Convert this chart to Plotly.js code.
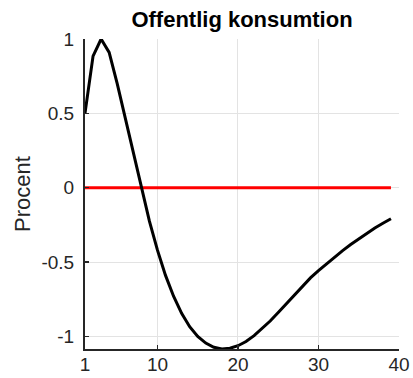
<!DOCTYPE html>
<html>
<head>
<meta charset="utf-8">
<script src="https://cdn.plot.ly/plotly-3.0.1.min.js"></script>
<style>html,body{margin:0;padding:0;background:#fff;}#chart{width:413px;height:378px;}</style>
</head>
<body>
<div id="chart"></div>
<script>
const titleText = "Offentlig konsumtion";
const yLabel = "Procent";
const periods = [1,2,3,4,5,6,7,8,9,10,11,12,13,14,15,16,17,18,19,20,21,22,23,24,25,26,27,28,29,30,31,32,33,34,35,36,37,38,39];
const response = [0.5,0.885,1.0,0.91,0.70,0.47,0.235,-0.005,-0.225,-0.42,-0.59,-0.73,-0.845,-0.935,-1.0,-1.045,-1.073,-1.085,-1.08,-1.063,-1.035,-0.995,-0.948,-0.897,-0.84,-0.78,-0.72,-0.662,-0.607,-0.558,-0.511,-0.466,-0.423,-0.382,-0.343,-0.306,-0.271,-0.239,-0.209];
const baseline = periods.map(() => 0);
const xTicks = [1,10,20,30,40];
const yTicks = [-1,-0.5,0,0.5,1];
const yTickText = ["-1","-0.5","0","0.5","1"];

const yMin = Math.min(...response), yMax = Math.max(...response);
const FONT = "Liberation Sans, Arial, Helvetica, sans-serif";

const traces = [
  {x: periods, y: baseline, mode: "lines", line: {color: "#ff0000", width: 3}, hoverinfo: "skip"},
  {x: periods, y: response, mode: "lines", line: {color: "#000000", width: 3}, hoverinfo: "skip"}
];

const axisCommon = {
  showline: true, linecolor: "#262626", linewidth: 2,
  ticks: "inside", ticklen: 4, tickwidth: 1.5, tickcolor: "#262626",
  showgrid: true, gridcolor: "#e3e3e3", gridwidth: 1,
  zeroline: false, mirror: false,
  tickfont: {family: FONT, size: 19, color: "#262626"}
};

const layout = {
  width: 413, height: 378,
  margin: {l: 85, r: 14, t: 39, b: 29, pad: 0},
  paper_bgcolor: "#ffffff", plot_bgcolor: "#ffffff",
  showlegend: false,
  title: {text: "<b>" + titleText + "</b>", x: 0.586, xanchor: "center", y: 0.97, yanchor: "top",
          font: {family: FONT, size: 22, color: "#000000"}},
  xaxis: Object.assign({}, axisCommon, {range: [1, 40], tickvals: xTicks, ticktext: xTicks.map(String), ticklabelstandoff: -3}),
  yaxis: Object.assign({}, axisCommon, {range: [yMin, yMax], tickvals: yTicks, ticktext: yTickText, ticklabelstandoff: 5,
          title: {text: yLabel, standoff: 5, font: {family: FONT, size: 22, color: "#262626"}}})
};

Plotly.newPlot("chart", traces, layout, {staticPlot: true, displayModeBar: false});
</script>
</body>
</html>
